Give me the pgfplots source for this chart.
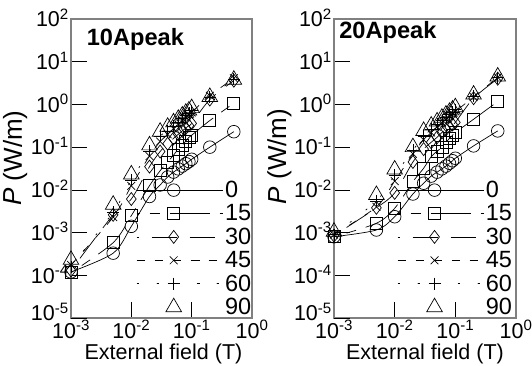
\documentclass[border=0pt]{standalone}
\usepackage{pgfplots}
\usepackage{pgfplotstable}
\pgfplotsset{compat=1.18}
\usepackage{fontspec}
\setmainfont{Liberation Sans}

\pgfplotstableread{
x a0 a15 a30 a45 a60 a90
0.001 1.2e-4 1.15e-4 1.3e-4 1.75e-4 1.6e-4 2.3e-4
0.005 3.3e-4 5.8e-4 2.6e-3 2.3e-3 3.0e-3 4.5e-3
0.01 1.4e-3 2.5e-3 6.1e-3 1.24e-2 1.7e-2 2.3e-2
0.02 7.0e-3 1.25e-2 3.5e-2 6.2e-2 8.0e-2 1.1e-1
0.03 1.3e-2 2.8e-2 7.9e-2 1.35e-1 1.8e-1 2.3e-1
0.04 2.0e-2 4.5e-2 1.2e-1 2.0e-1 2.4e-1 3.0e-1
0.05 2.6e-2 6.5e-2 1.6e-1 2.7e-1 3.1e-1 3.8e-1
0.06 3.1e-2 9.0e-2 2.0e-1 3.4e-1 3.9e-1 4.6e-1
0.07 3.6e-2 1.1e-1 2.4e-1 4.2e-1 4.7e-1 5.5e-1
0.08 4.1e-2 1.4e-1 2.8e-1 5.0e-1 5.5e-1 6.4e-1
0.09 4.6e-2 1.7e-1 3.2e-1 5.7e-1 6.3e-1 7.2e-1
0.1 5.2e-2 1.9e-1 3.6e-1 6.5e-1 7.2e-1 8.2e-1
0.2 1.0e-1 4.2e-1 1.3 1.6 1.5 1.5
0.5 2.3e-1 1.07 3.6 4.1 3.9 3.8
}\dataA

\pgfplotstableread{
x a0 a15 a30 a45 a60 a90
0.001 8e-4 8e-4 8.5e-4 9e-4 9e-4 1.05e-3
0.005 1.15e-3 1.65e-3 3.8e-3 4.0e-3 5.5e-3 7.6e-3
0.01 2.35e-3 3.7e-3 8.5e-3 1.6e-2 2.2e-2 3.0e-2
0.02 8.0e-3 1.56e-2 4.5e-2 7.0e-2 8.5e-2 1.0e-1
0.03 1.43e-2 3.2e-2 9.0e-2 1.5e-1 1.8e-1 2.4e-1
0.04 2.1e-2 6.0e-2 1.3e-1 2.2e-1 2.6e-1 3.2e-1
0.05 2.6e-2 8.0e-2 1.7e-1 3.0e-1 3.4e-1 4.0e-1
0.06 3.1e-2 1.0e-1 2.2e-1 3.7e-1 4.2e-1 4.9e-1
0.07 3.6e-2 1.3e-1 2.6e-1 4.5e-1 5.0e-1 5.8e-1
0.08 4.2e-2 1.6e-1 3.0e-1 5.3e-1 5.8e-1 6.7e-1
0.09 4.8e-2 1.9e-1 3.4e-1 6.0e-1 6.6e-1 7.6e-1
0.1 5.5e-2 2.2e-1 3.8e-1 6.8e-1 7.5e-1 8.6e-1
0.2 1.07e-1 4.5e-1 1.4 1.5 1.55 1.7
0.5 2.4e-1 1.17 4.0 4.3 4.2 4.5
}\dataB

\newcommand{\tickf}{\fontsize{21.5}{23}\selectfont}
\newcommand{\labf}{\fontsize{21.5}{24}\selectfont}
\newcommand{\titf}{\fontsize{23.6}{26}\selectfont}
\newcommand{\ylabf}{\fontsize{26}{28}\selectfont}
\newcommand{\legf}{\fontsize{23.5}{26}\selectfont}

\begin{document}
\begin{tikzpicture}
\begin{axis}[width=181pt, at={(0pt,0pt)}, anchor=south west,
    xmode=log, ymode=log,
    scale only axis, height=299pt,
    xmin=1e-3, xmax=1, ymin=1e-5, ymax=1e2,
    xtick={1e-3,1e-2,1e-1,1},
    xticklabels={10\textsuperscript{-3},10\textsuperscript{-2},10\textsuperscript{-1},10\textsuperscript{0}},
    ytick={1e-4,1e-3,1e-2,1e-1,1,1e1,1e2},
    yticklabels={10\textsuperscript{-4},10\textsuperscript{-3},10\textsuperscript{-2},10\textsuperscript{-1},10\textsuperscript{0},10\textsuperscript{1},10\textsuperscript{2}},
    extra y ticks={1e-5},
    extra y tick labels={10\textsuperscript{-5}},
    extra y tick style={yticklabel style={yshift=5pt}},
    tick pos=left, tick align=inside, major tick length=16pt,
    minor tick style={draw=none},
    axis line style={draw=gray, line width=1.2pt},
    major tick style={black, line width=0.6pt},
    ticklabel style={font=\tickf},
    yticklabel style={inner sep=2pt, yshift=1pt},
    xticklabel style={inner sep=2pt},
    xlabel={External field (T)},
    ylabel={\textit{P} (W/m)},
    legend style={draw=none, fill=none, anchor=north west, font=\legf,
      inner sep=0pt, row sep=1.6pt, at={(0.36,0.465)}},
    legend cell align=left,
    legend image code/.code={\draw[mark repeat=2,mark phase=2,#1] plot coordinates {(0pt,0pt) (37pt,0pt) (86pt,0pt)};},
    ylabel style={at={(rel axis cs:-0.309,0.535)}, anchor=center, font=\ylabf},
    xlabel style={at={(rel axis cs:0.511,-0.14)}, anchor=base, font=\labf}]
\addplot[black, line width=0.7pt, smooth, mark=o, mark size=6.3pt, mark options={solid}] table[x=x,y=a0]{\dataA};
\addplot[black, line width=0.7pt, smooth, dash pattern=on 10pt off 10pt on 40pt off 10pt, dash phase=57pt, mark=square, mark size=6pt, mark options={solid}] table[x=x,y=a15]{\dataA};
\addplot[black, line width=0.7pt, smooth, dash pattern=on 25pt off 13pt, dash phase=23pt, mark=diamond, mark size=6.5pt, mark options={solid}] table[x=x,y=a30]{\dataA};
\addplot[black, line width=0.7pt, smooth, dash pattern=on 8pt off 10pt, mark=x, mark size=5.5pt, mark options={solid}] table[x=x,y=a45]{\dataA};
\addplot[black, line width=0.7pt, smooth, dash pattern=on 2pt off 18pt, mark=+, mark size=6pt, mark options={solid}] table[x=x,y=a60]{\dataA};
\addplot[black, line width=0.7pt, only marks, mark=triangle, mark size=9pt, mark options={solid}] table[x=x,y=a90]{\dataA};
\legend{0,15,30,45,60,90}
\node[anchor=base west, font=\bfseries\titf] at (rel axis cs:0.068,0.913) {10Apeak};
\end{axis}
\begin{axis}[width=182pt, at={(263pt,0pt)}, anchor=south west,
    xmode=log, ymode=log,
    scale only axis, height=299pt,
    xmin=1e-3, xmax=1, ymin=1e-5, ymax=1e2,
    xtick={1e-3,1e-2,1e-1,1},
    xticklabels={10\textsuperscript{-3},10\textsuperscript{-2},10\textsuperscript{-1},10\textsuperscript{0}},
    ytick={1e-4,1e-3,1e-2,1e-1,1,1e1,1e2},
    yticklabels={10\textsuperscript{-4},10\textsuperscript{-3},10\textsuperscript{-2},10\textsuperscript{-1},10\textsuperscript{0},10\textsuperscript{1},10\textsuperscript{2}},
    extra y ticks={1e-5},
    extra y tick labels={10\textsuperscript{-5}},
    extra y tick style={yticklabel style={yshift=5pt}},
    tick pos=left, tick align=inside, major tick length=16pt,
    minor tick style={draw=none},
    axis line style={draw=gray, line width=1.2pt},
    major tick style={black, line width=0.6pt},
    ticklabel style={font=\tickf},
    yticklabel style={inner sep=2pt, yshift=1pt},
    xticklabel style={inner sep=2pt},
    xlabel={External field (T)},
    ylabel={\textit{P} (W/m)},
    legend style={draw=none, fill=none, anchor=north west, font=\legf,
      inner sep=0pt, row sep=1.6pt, at={(0.346,0.465)}},
    legend cell align=left,
    legend image code/.code={\draw[mark repeat=2,mark phase=2,#1] plot coordinates {(0pt,0pt) (37pt,0pt) (86pt,0pt)};},
    ylabel style={at={(rel axis cs:-0.2995,0.54)}, anchor=center, font=\ylabf},
    xlabel style={at={(rel axis cs:0.5,-0.14)}, anchor=base, font=\labf}]
\addplot[black, line width=0.7pt, smooth, mark=o, mark size=6.3pt, mark options={solid}] table[x=x,y=a0]{\dataB};
\addplot[black, line width=0.7pt, smooth, dash pattern=on 10pt off 10pt on 40pt off 10pt, dash phase=57pt, mark=square, mark size=6pt, mark options={solid}] table[x=x,y=a15]{\dataB};
\addplot[black, line width=0.7pt, smooth, dash pattern=on 25pt off 13pt, dash phase=23pt, mark=diamond, mark size=6.5pt, mark options={solid}] table[x=x,y=a30]{\dataB};
\addplot[black, line width=0.7pt, smooth, dash pattern=on 8pt off 10pt, mark=x, mark size=5.5pt, mark options={solid}] table[x=x,y=a45]{\dataB};
\addplot[black, line width=0.7pt, smooth, dash pattern=on 2pt off 18pt, mark=+, mark size=6pt, mark options={solid}] table[x=x,y=a60]{\dataB};
\addplot[black, line width=0.7pt, only marks, mark=triangle, mark size=9pt, mark options={solid}] table[x=x,y=a90]{\dataB};
\legend{0,15,30,45,60,90}
\node[anchor=base west, font=\bfseries\titf] at (rel axis cs:0.01,0.936) {20Apeak};
\end{axis}
\pgfresetboundingbox
\path (-71pt,-47pt) rectangle (461pt,318pt);
\end{tikzpicture}
\end{document}
